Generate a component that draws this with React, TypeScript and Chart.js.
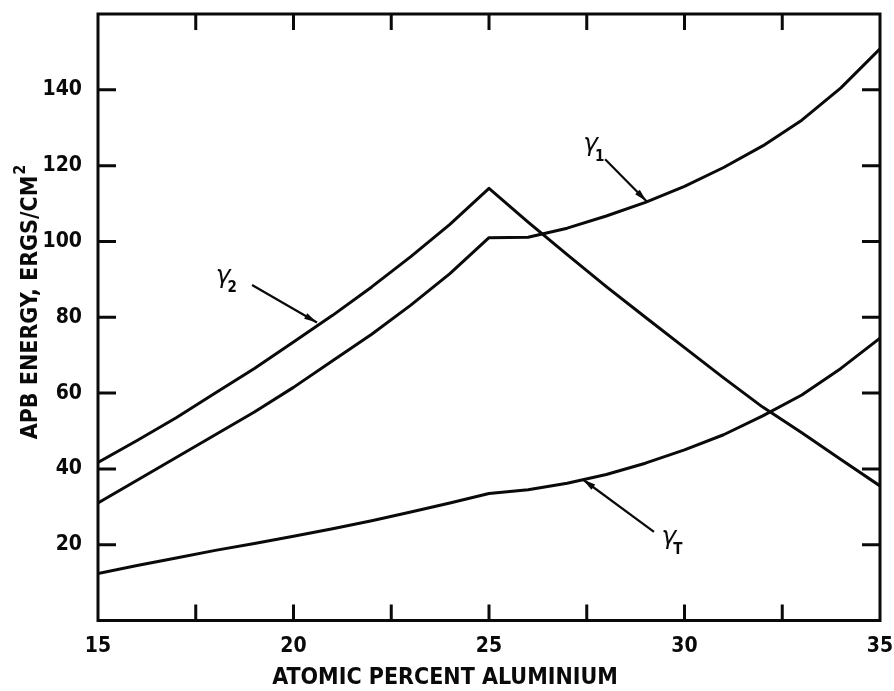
import { useEffect, useRef } from "react";
import { Chart, registerables } from "chart.js";

Chart.register(...registerables);

// Atomic percent aluminium (x) and APB energies (ergs/cm²)
const aluminium = [15, 16, 17, 18, 19, 20, 21, 22, 23, 24, 25, 26, 27, 28, 29, 30, 31, 32, 33, 34, 35];
const gamma2 = [41.7, 47.5, 53.5, 60, 66.5, 73.5, 80.5, 88, 96, 104.5, 114, 105.1, 96.5, 88.1, 80, 72, 64, 56.3, 49.5, 42.5, 35.5];
const gamma1 = [31, 37, 43, 49, 55, 61.5, 68.5, 75.5, 83.2, 91.5, 101, 101.1, 103.5, 106.7, 110.3, 114.5, 119.5, 125.2, 132, 140.5, 150.8];
const gammaT = [12.4, 14.5, 16.5, 18.5, 20.3, 22.2, 24.2, 26.3, 28.6, 31, 33.5, 34.5, 36.2, 38.5, 41.5, 45, 49, 54, 59.5, 66.5, 74.5];

// Axis ticks
const xLabelTicks = [15, 20, 25, 30, 35];
const xMarkTicks = [17.5, 20, 22.5, 25, 27.5, 30, 32.5];
const yLabelTicks = [20, 40, 60, 80, 100, 120, 140];

// Curve labels with pointer arrows (data coordinates)
const curveLabels = [
  { sub: "2", x: 18.2, y: 90.8, fromX: 18.94, fromY: 88.5, toX: 20.6, toY: 78.6 },
  { sub: "1", x: 27.6, y: 125.5, fromX: 27.97, fromY: 121.7, toX: 29.03, toY: 110.6 },
  { sub: "T", x: 29.6, y: 21.8, fromX: 29.22, fromY: 23.4, toX: 27.4, toY: 37.2 },
];

const INK = "#0a0a0a";
const FONT = "'DejaVu Sans Condensed', 'DejaVu Sans', sans-serif";

const framePlugin = {
  id: "frameAndMarks",
  afterDatasetsDraw(chart: any) {
    const { ctx, chartArea: a, scales } = chart;
    const xs = scales.x;
    const ys = scales.y;
    ctx.save();
    ctx.strokeStyle = INK;
    ctx.lineWidth = 3;
    ctx.lineCap = "butt";
    ctx.strokeRect(a.left, a.top, a.right - a.left, a.bottom - a.top);
    ctx.beginPath();
    for (const v of xMarkTicks) {
      const px = xs.getPixelForValue(v);
      ctx.moveTo(px, a.bottom);
      ctx.lineTo(px, a.bottom - 16);
      ctx.moveTo(px, a.top);
      ctx.lineTo(px, a.top + 16);
    }
    for (const v of yLabelTicks) {
      const py = ys.getPixelForValue(v);
      ctx.moveTo(a.left, py);
      ctx.lineTo(a.left + 18, py);
      ctx.moveTo(a.right, py);
      ctx.lineTo(a.right - 18, py);
    }
    ctx.stroke();

    // curve labels and arrows
    for (const c of curveLabels) {
      const fx = xs.getPixelForValue(c.fromX);
      const fy = ys.getPixelForValue(c.fromY);
      const tx = xs.getPixelForValue(c.toX);
      const ty = ys.getPixelForValue(c.toY);
      ctx.lineWidth = 2.2;
      ctx.beginPath();
      ctx.moveTo(fx, fy);
      ctx.lineTo(tx, ty);
      ctx.stroke();
      const ang = Math.atan2(ty - fy, tx - fx);
      const len = 13;
      const hw = 3.2;
      ctx.beginPath();
      ctx.moveTo(tx, ty);
      ctx.lineTo(tx - len * Math.cos(ang) + hw * Math.sin(ang), ty - len * Math.sin(ang) - hw * Math.cos(ang));
      ctx.lineTo(tx - len * Math.cos(ang) - hw * Math.sin(ang), ty - len * Math.sin(ang) + hw * Math.cos(ang));
      ctx.closePath();
      ctx.fillStyle = INK;
      ctx.fill();

      const lx = xs.getPixelForValue(c.x);
      const ly = ys.getPixelForValue(c.y);
      ctx.fillStyle = INK;
      ctx.textAlign = "center";
      ctx.textBaseline = "middle";
      ctx.font = "italic 25px 'DejaVu Sans', sans-serif";
      ctx.fillText("γ", lx, ly);
      ctx.font = `bold 15px ${FONT}`;
      ctx.fillText(c.sub, lx + 9, ly + 12);
    }

    // axis titles
    ctx.fillStyle = INK;
    ctx.textBaseline = "middle";
    ctx.textAlign = "center";
    ctx.font = `bold 23px ${FONT}`;
    ctx.fillText("ATOMIC PERCENT ALUMINIUM", 445, 678);

    ctx.save();
    ctx.translate(31, 302);
    ctx.rotate(-Math.PI / 2);
    const main = "APB ENERGY, ERGS/CM";
    ctx.font = `bold 23px ${FONT}`;
    const wMain = ctx.measureText(main).width;
    ctx.font = `bold 16px ${FONT}`;
    const wSup = ctx.measureText("2").width;
    const start = -(wMain + wSup + 1) / 2;
    ctx.textAlign = "left";
    ctx.font = `bold 23px ${FONT}`;
    ctx.fillText(main, start, 0);
    ctx.font = `bold 16px ${FONT}`;
    ctx.fillText("2", start + wMain + 1, -10);
    ctx.restore();

    ctx.restore();
  },
};

const series = (values: number[]) => ({
  data: aluminium.map((x, i) => ({ x, y: values[i] })),
  borderColor: INK,
  borderWidth: 3,
  pointRadius: 0,
  tension: 0,
  fill: false,
  borderJoinStyle: "round" as const,
  borderCapStyle: "round" as const,
});

export default function App() {
  const ref = useRef<HTMLCanvasElement>(null);

  useEffect(() => {
    const canvas = ref.current;
    if (!canvas) return;
    const tickFont = { family: FONT, size: 21, weight: "bold" as const };
    const chart = new Chart(canvas, {
      type: "line",
      data: {
        datasets: [series(gamma2), series(gamma1), series(gammaT)],
      },
      options: {
        responsive: false,
        animation: false,
        layout: { padding: { top: 14, right: 14, left: 0, bottom: 0 } },
        plugins: {
          legend: { display: false },
          tooltip: { enabled: false },
        },
        scales: {
          x: {
            type: "linear",
            min: 15,
            max: 35,
            afterFit(s: any) {
              s.height = 70.5;
              s.paddingLeft = 0;
              s.paddingRight = 0;
            },
            afterBuildTicks(s: any) {
              s.ticks = xLabelTicks.map((value) => ({ value }));
            },
            ticks: {
              autoSkip: false,
              maxRotation: 0,
              padding: 5,
              color: INK,
              font: tickFont,
              callback: (v: any) => String(v),
            },
            grid: { display: false },
            border: { display: false },
          },
          y: {
            type: "linear",
            min: 0,
            max: 160,
            afterFit(s: any) {
              s.width = 98;
              s.paddingTop = 0;
              s.paddingBottom = 0;
            },
            afterBuildTicks(s: any) {
              s.ticks = yLabelTicks.map((value) => ({ value }));
            },
            ticks: {
              autoSkip: false,
              padding: 8,
              color: INK,
              font: tickFont,
              callback: (v: any) => String(v),
            },
            grid: { display: false },
            border: { display: false },
          },
        },
      },
      plugins: [framePlugin],
    });
    return () => chart.destroy();
  }, []);

  return (
    <div style={{ position: "fixed", left: 0, top: 0, width: 894, height: 691, background: "#fff" }}>
      <canvas ref={ref} width={894} height={691} style={{ display: "block" }} />
    </div>
  );
}
